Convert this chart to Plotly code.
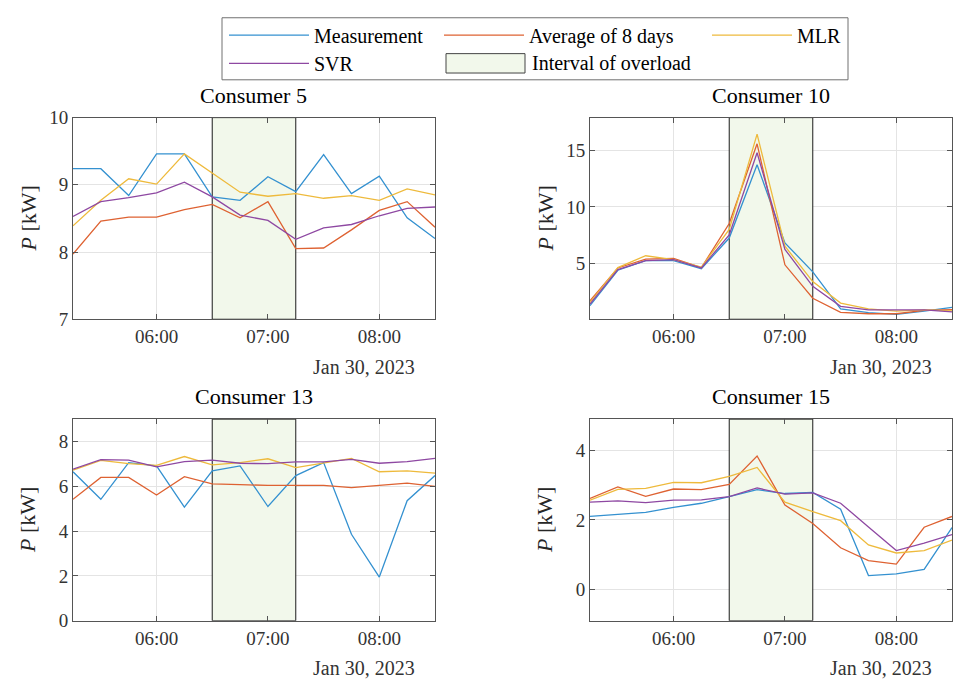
import plotly.graph_objects as go
import pandas as pd

# ---------------- data ----------------
times = ["2023-01-30 05:15", "2023-01-30 05:30", "2023-01-30 05:45", "2023-01-30 06:00",
         "2023-01-30 06:15", "2023-01-30 06:30", "2023-01-30 06:45", "2023-01-30 07:00",
         "2023-01-30 07:15", "2023-01-30 07:30", "2023-01-30 07:45", "2023-01-30 08:00",
         "2023-01-30 08:15", "2023-01-30 08:30"]
overload_start = "2023-01-30 06:30"
overload_end = "2023-01-30 07:15"
x_range = ["2023-01-30 05:15", "2023-01-30 08:30"]
tick_hours = ["2023-01-30 06:00", "2023-01-30 07:00", "2023-01-30 08:00"]
date_label = "Jan 30, 2023"

consumers = ["Consumer 5", "Consumer 10", "Consumer 13", "Consumer 15"]
series_names = ["Measurement", "Average of 8 days", "MLR", "SVR"]
interval_name = "Interval of overload"

c5_meas = [9.24, 9.24, 8.84, 9.46, 9.46, 8.82, 8.77, 9.12, 8.90, 9.45, 8.87, 9.13, 8.51, 8.20]
c5_avg = [7.97, 8.46, 8.52, 8.52, 8.63, 8.71, 8.51, 8.75, 8.05, 8.06, 8.33, 8.62, 8.75, 8.37]
c5_mlr = [8.39, 8.77, 9.09, 9.01, 9.46, 9.18, 8.89, 8.83, 8.87, 8.80, 8.84, 8.77, 8.94, 8.85]
c5_svr = [8.53, 8.75, 8.81, 8.88, 9.04, 8.82, 8.55, 8.47, 8.19, 8.36, 8.41, 8.54, 8.65, 8.67]

c10_meas = [1.25, 4.39, 5.24, 5.24, 4.53, 7.24, 13.73, 6.81, 4.25, 0.97, 0.63, 0.48, 0.77, 1.10]
c10_avg = [1.68, 4.59, 5.38, 5.44, 4.62, 8.52, 15.58, 4.87, 1.91, 0.66, 0.54, 0.54, 0.83, 0.90]
c10_mlr = [1.54, 4.62, 5.67, 5.33, 4.67, 8.00, 16.44, 6.52, 3.39, 1.48, 0.97, 0.77, 0.88, 0.80]
c10_svr = [1.40, 4.44, 5.24, 5.33, 4.59, 7.52, 14.79, 6.24, 2.96, 1.20, 0.88, 0.88, 0.88, 0.70]

c13_meas = [6.65, 5.42, 7.06, 6.91, 5.07, 6.69, 6.91, 5.10, 6.48, 7.06, 3.86, 1.95, 5.36, 6.48]
c13_avg = [5.42, 6.40, 6.40, 5.61, 6.43, 6.11, 6.08, 6.04, 6.04, 6.04, 5.94, 6.03, 6.14, 6.00]
c13_mlr = [6.72, 7.16, 7.01, 6.94, 7.33, 6.96, 7.06, 7.23, 6.84, 7.03, 7.25, 6.65, 6.69, 6.59]
c13_svr = [6.77, 7.19, 7.17, 6.87, 7.10, 7.17, 7.03, 7.01, 7.09, 7.09, 7.20, 7.03, 7.10, 7.25]

c15_meas = [2.10, 2.17, 2.22, 2.36, 2.48, 2.67, 2.87, 2.76, 2.79, 2.31, 0.40, 0.45, 0.58, 1.78]
c15_avg = [2.62, 2.95, 2.68, 2.89, 2.87, 3.02, 3.84, 2.43, 1.90, 1.20, 0.83, 0.73, 1.79, 2.10]
c15_mlr = [2.57, 2.88, 2.91, 3.08, 3.07, 3.25, 3.51, 2.51, 2.24, 1.98, 1.28, 1.05, 1.12, 1.42]
c15_svr = [2.51, 2.55, 2.50, 2.57, 2.58, 2.67, 2.92, 2.74, 2.78, 2.48, 1.80, 1.12, 1.33, 1.58]

y_ranges = [[7, 10], [0.05, 17.9], [0, 9], [-0.9, 4.9]]
y_ticks = [[7, 8, 9, 10], [5, 10, 15], [0, 2, 4, 6, 8], [0, 2, 4]]

all_data = [
    [c5_meas, c5_avg, c5_mlr, c5_svr],
    [c10_meas, c10_avg, c10_mlr, c10_svr],
    [c13_meas, c13_avg, c13_mlr, c13_svr],
    [c15_meas, c15_avg, c15_mlr, c15_svr],
]

# ---------------- style ----------------
W, H = 953, 688
FONT = "Liberation Serif"
colors = ["rgb(52,145,208)", "rgb(222,98,50)", "rgb(238,186,60)", "rgb(142,72,162)"]
fill_color = "rgb(242,248,235)"
axis_color = "#555555"
grid_color = "#e4e4e4"

x_domains = [[73 / W, 435 / W], [590 / W, 952 / W], [73 / W, 435 / W], [590 / W, 952 / W]]
y_top = [1 - 319 / H, 1 - 111 / H]
y_bot = [1 - 630 / H, 1 - 422 / H]
y_domains = [y_top, y_top, y_bot, y_bot]

t0 = pd.Timestamp(overload_start)
t1 = pd.Timestamp(overload_end)
interval_mid = (t0 + (t1 - t0) / 2).strftime("%Y-%m-%d %H:%M:%S")
interval_width_ms = (t1 - t0).total_seconds() * 1000

legend_of = {"Measurement": "legend", "Average of 8 days": "legend", "MLR": "legend",
             "SVR": "legend2"}
legend_width = {"Measurement": 120, "Average of 8 days": 173, "MLR": 60, "SVR": 120}

fig = go.Figure()

for i in range(4):
    xa = "x" if i == 0 else f"x{i+1}"
    ya = "y" if i == 0 else f"y{i+1}"
    lo, hi = y_ranges[i]
    fig.add_trace(go.Bar(
        x=[interval_mid], y=[hi - lo], base=[lo], width=[interval_width_ms],
        marker=dict(color=fill_color, line=dict(color="#1a1a1a", width=1)),
        name=interval_name, showlegend=False,
        xaxis=xa, yaxis=ya, hoverinfo="skip"))
    for k in range(4):
        fig.add_trace(go.Scatter(
            x=times, y=all_data[i][k], mode="lines",
            line=dict(color=colors[k], width=1.3),
            name=series_names[k], showlegend=(i == 0),
            legend=legend_of[series_names[k]], legendrank=k + 1,
            legendwidth=legend_width[series_names[k]],
            xaxis=xa, yaxis=ya))

leg_common = dict(
    orientation="h", xanchor="left", yanchor="middle",
    bgcolor="rgba(0,0,0,0)", borderwidth=0,
    font=dict(family=FONT, size=20, color="black"),
    itemwidth=80, traceorder="normal",
)

row2_y = 1 - 55 / H

layout = dict(
    width=W, height=H,
    margin=dict(l=0, r=0, t=0, b=0),
    paper_bgcolor="white", plot_bgcolor="white",
    font=dict(family=FONT, size=19, color="#262626"),
    legend=dict(x=224 / W, y=1 - 26 / H, **leg_common),
    legend2=dict(x=224 / W, y=row2_y, **leg_common),
    showlegend=True,
    barmode="overlay",
    shapes=[
        # legend frame
        dict(type="rect", xref="paper", yref="paper",
             x0=222 / W, x1=848 / W, y0=1 - 72 / H, y1=1 - 8 / H,
             line=dict(color="#707070", width=1), fillcolor="white", layer="below"),
        # legend key for the overload interval
        dict(type="rect", xref="paper", yref="paper",
             x0=446 / W, x1=525 / W, y0=row2_y - 10 / H, y1=row2_y + 10 / H,
             line=dict(color="#444444", width=1), fillcolor=fill_color, layer="above"),
    ],
)

annotations = [dict(
    text=interval_name, xref="paper", yref="paper", x=530 / W, y=row2_y,
    xanchor="left", yanchor="middle", showarrow=False,
    font=dict(family=FONT, size=20, color="black"))]

for i in range(4):
    xk = "xaxis" if i == 0 else f"xaxis{i+1}"
    yk = "yaxis" if i == 0 else f"yaxis{i+1}"
    ya = "y" if i == 0 else f"y{i+1}"
    xa = "x" if i == 0 else f"x{i+1}"
    layout[xk] = dict(
        domain=x_domains[i], anchor=ya, type="date", range=x_range,
        tickvals=tick_hours, tickformat="%H:%M",
        showline=True, linecolor=axis_color, linewidth=1, mirror="ticks",
        ticks="inside", ticklen=5, tickcolor=axis_color,
        showgrid=True, gridcolor=grid_color, gridwidth=1, zeroline=False,
        tickfont=dict(family=FONT, size=19, color="#333333"),
    )
    layout[yk] = dict(
        domain=y_domains[i], anchor=xa, range=y_ranges[i], tickvals=y_ticks[i],
        showline=True, linecolor=axis_color, linewidth=1, mirror="ticks",
        ticks="inside", ticklen=5, tickcolor=axis_color,
        showgrid=True, gridcolor=grid_color, gridwidth=1, zeroline=False,
        tickfont=dict(family=FONT, size=19, color="#333333"),
    )
    xc = (x_domains[i][0] + x_domains[i][1]) / 2
    top = y_domains[i][1]
    bot = y_domains[i][0]
    annotations.append(dict(
        text=consumers[i], xref="paper", yref="paper", x=xc, y=top + 23 / H,
        xanchor="center", yanchor="middle", showarrow=False,
        font=dict(family=FONT, size=22, color="black")))
    annotations.append(dict(
        text=date_label, xref="paper", yref="paper", x=x_domains[i][1] - 18 / W,
        y=bot - 49 / H, xanchor="right", yanchor="middle", showarrow=False,
        font=dict(family=FONT, size=20, color="#333333")))
    annotations.append(dict(
        text="<i>P</i> [kW]", xref="paper", yref="paper",
        x=x_domains[i][0] - 45 / W, y=(top + bot) / 2, textangle=-90,
        xanchor="center", yanchor="middle", showarrow=False,
        font=dict(family=FONT, size=22, color="#262626")))

layout["annotations"] = annotations
fig.update_layout(**layout)

fig.write_html("out.html")
